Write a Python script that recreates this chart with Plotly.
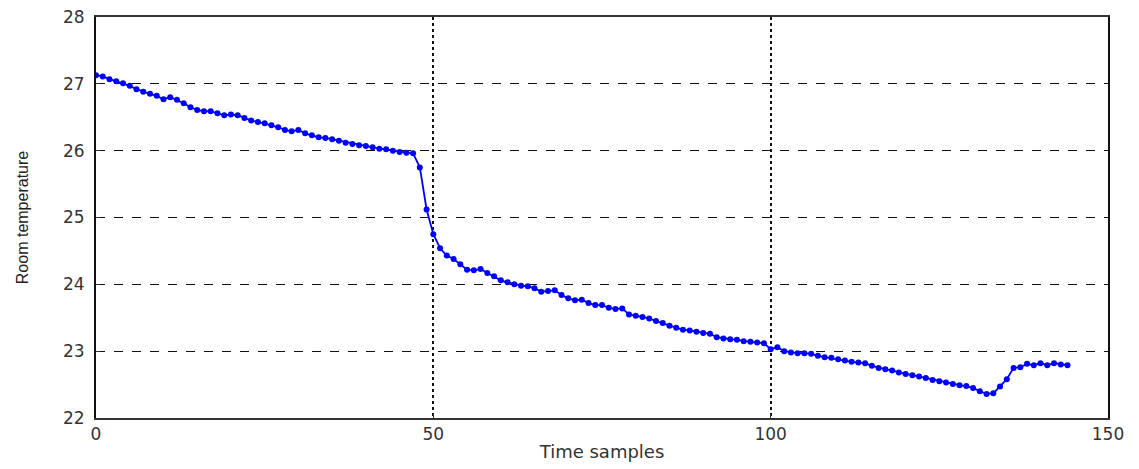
import plotly.graph_objects as go

samples = list(range(0, 145))
temperature = [
    27.13, 27.11, 27.07, 27.04, 27.01, 26.97, 26.92, 26.88, 26.85, 26.82,
    26.77, 26.80, 26.76, 26.71, 26.65, 26.61, 26.59, 26.59, 26.56, 26.53,
    26.54, 26.53, 26.49, 26.45, 26.43, 26.41, 26.38, 26.35, 26.31, 26.29,
    26.31, 26.26, 26.23, 26.20, 26.19, 26.17, 26.15, 26.12, 26.10, 26.08,
    26.07, 26.05, 26.03, 26.02, 26.00, 25.98, 25.97, 25.96, 25.75, 25.12,
    24.75, 24.54, 24.43, 24.38, 24.30, 24.22, 24.21, 24.23, 24.17, 24.12,
    24.06, 24.03, 24.00, 23.98, 23.97, 23.94, 23.89, 23.90, 23.91, 23.84,
    23.79, 23.76, 23.77, 23.72, 23.69, 23.69, 23.65, 23.63, 23.64, 23.55,
    23.53, 23.51, 23.49, 23.45, 23.42, 23.38, 23.35, 23.32, 23.31, 23.29,
    23.27, 23.26, 23.21, 23.19, 23.18, 23.17, 23.15, 23.14, 23.13, 23.12,
    23.03, 23.06, 23.00, 22.98, 22.97, 22.97, 22.96, 22.93, 22.91, 22.90,
    22.88, 22.86, 22.84, 22.83, 22.82, 22.78, 22.75, 22.73, 22.71, 22.68,
    22.66, 22.64, 22.62, 22.60, 22.57, 22.55, 22.53, 22.51, 22.49, 22.48,
    22.45, 22.40, 22.36, 22.37, 22.47, 22.58, 22.75, 22.76, 22.81, 22.79,
    22.82, 22.79, 22.82, 22.80, 22.79,
]
x_ticks = [0, 50, 100, 150]
y_ticks = [22, 23, 24, 25, 26, 27, 28]

fig = go.Figure()
fig.add_trace(go.Scatter(
    x=samples, y=temperature, mode="lines+markers",
    line=dict(color="#0000FF", width=1.8),
    marker=dict(color="#0000FF", size=6),
    showlegend=False,
))

fig.update_layout(
    width=1139, height=469,
    margin=dict(l=88, r=39, t=9, b=59),
    paper_bgcolor="white", plot_bgcolor="white",
    font=dict(family="Liberation Sans, Arial, sans-serif", color="#222"),
)
fig.update_xaxes(
    range=[0, 150], tickvals=x_ticks, ticktext=[str(v) for v in x_ticks],
    showgrid=True, gridcolor="#111", griddash="dot", gridwidth=1.5,
    showline=True, linecolor="#333", linewidth=2, mirror=True,
    ticks="inside", ticklen=4, tickcolor="#333",
    tickfont=dict(family="DejaVu Sans, sans-serif", size=17, color="#333"),
    title=dict(text="Time samples", standoff=2,
               font=dict(family="DejaVu Sans, sans-serif", size=18, color="#333")),
    zeroline=False, automargin=False, ticklabeloverflow="allow",
)
fig.update_yaxes(
    range=[22, 28], tickvals=y_ticks, ticktext=[str(v) for v in y_ticks],
    showgrid=True, gridcolor="#111", griddash="dash", gridwidth=1.2,
    showline=True, linecolor="#111", linewidth=2, mirror=True,
    ticks="inside", ticklen=4, tickcolor="#333", ticklabelstandoff=6,
    tickfont=dict(family="DejaVu Sans, sans-serif", size=17, color="#333"),
    title=dict(text="Room temperature", standoff=30,
               font=dict(family="Liberation Sans, sans-serif", size=16, color="#222")),
    zeroline=False, automargin=False, ticklabeloverflow="allow",
)

fig.write_html("out.html")
